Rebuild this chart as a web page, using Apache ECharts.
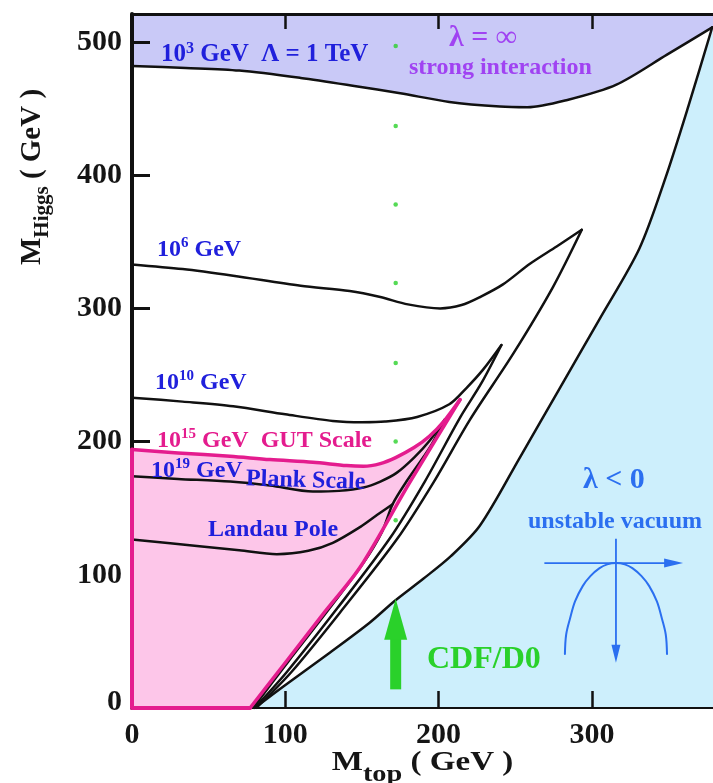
<!DOCTYPE html>
<html>
<head>
<meta charset="utf-8">
<script src="https://cdn.jsdelivr.net/npm/echarts@6/dist/echarts.min.js"></script>
<style>
  html, body { margin: 0; padding: 0; background: #ffffff; }
  #chart { width: 713px; height: 783px; }
</style>
</head>
<body>
<div id="chart"></div>
<script>
const SERIF = '"Liberation Serif", "Times New Roman", serif';

// Axis ranges and tick labels
const xMax = 379;
const yMax = 521;
const xTickLabels = [0, 100, 200, 300];
const yTickLabels = [0, 100, 200, 300, 400, 500];

// Upper (triviality) and lower (vacuum stability) bounds, [M_top, M_Higgs] in GeV
const upper1e3 = [[0,482],[35,480.5],[70,478.5],[110,473],[145,467],[175,461.5],[207,455],[240,451.5],[258,451],[284,456.5],[316,468],[349,490.5],[378.5,511]];
const lower1e3 = [[80,0],[98.5,16],[129,41.5],[155,64],[171.5,80.5],[190,97],[208,114],[227,137],[253,188],[279,240],[305,292],[331,345],[348,398],[363,452],[378.5,511]];

const upper1e6 = [[0,333],[33,329.5],[66,324.5],[110,317],[142,313],[162,308.5],[180,303],[201,300],[215,302.5],[227,308.5],[242,318],[259.6,333.5],[277,346.5],[293.4,359]];
const lower1e6 = [[81,0],[104,27],[138,75],[173,127],[197,170],[220.5,216.5],[248.7,266],[274.6,316],[293.4,359]];

const upper1e10 = [[0,233],[33,230],[66,226.5],[100,220.5],[131,215.5],[150,214.5],[165,215],[186,218.5],[207,228],[218,240],[229,254],[241,272.5]];
const lower1e10 = [[80,0],[101,27],[134,75],[168,127],[191,170],[214,218],[228,244],[241,272.5]];

const upper1e15 = [[0,194],[30,191.5],[64,189],[90,186.5],[118,184.5],[140,182],[151,181.5],[162,183.5],[172,188],[184,195.5],[194,204],[204,216],[214,231.5]];
const lower1e15 = [[77,0],[100,34],[125,71],[149,106],[181,169],[214,231.5]];

const upper1e19 = [[0,174],[30,172],[64,170],[90,167],[118,162.5],[135,163],[151,165.5],[162,170],[172.6,176.5],[184,188],[194.4,201],[204,216.5]];
const lower1e19 = [[79,0],[102,35],[127,72],[151,109],[163,132],[170,153],[179,170],[194.5,196],[204,216.5]];

const landauPole = [[0,126.5],[44,121.5],[70,118.5],[94.5,115.5],[115,118],[131,124],[149,136],[160,145],[170,153]];

// Measured top mass (CDF/D0) marker
const cdfTop = 172;
const cdfDotsHiggs = [141, 200, 259, 319, 378, 437, 497];
const cdfArrow = [[172, 14], [172, 82]];

// Inverted potential sketch inside the unstable region
const potentialCurve = [[282.4,40.5],[283.2,55],[285.7,67],[289,80],[294,91.5],[299,99],[305,105],[310,107.8],[315.7,108.8],[321.4,107.8],[326.4,105],[332.4,99],[337.4,91.5],[342.4,80],[345.7,67],[348.2,55],[349,40.5]];
const potentialAxisH = [[269,108.8],[359.5,108.8]];
const potentialAxisV = [[315.7,127],[315.7,34]];

// Region outlines built from the curves above
const strongRegion = upper1e3.concat([[xMax, 511], [xMax, yMax], [0, yMax]]);
const unstableRegion = lower1e3.concat([[xMax, 511], [xMax, 0]]);
const gutRegion = [[0, 0]].concat(upper1e15, lower1e15.slice(0, -1).reverse());
const magentaFrame = [[0, 194], [0, 0], [77, 0]];

function areaSeries(name, points, color, z) {
  return {
    name, type: 'custom', coordinateSystem: 'cartesian2d', z, silent: true, clip: true,
    data: [[0, 0]],
    renderItem: (params, api) => ({
      type: 'polygon',
      shape: { points: points.map(p => api.coord(p)) },
      style: { fill: color }
    })
  };
}

function curveSeries(name, points, color, width, z, clip) {
  return {
    name, type: 'line', data: points, showSymbol: false, smooth: 0.3,
    lineStyle: { color, width, cap: 'round', join: 'round' },
    z, silent: true, clip: clip !== false
  };
}

function arrowSeries(name, pts, color, shaftW, headLen, headW, z) {
  return {
    name, type: 'custom', coordinateSystem: 'cartesian2d', z, silent: true, clip: false,
    data: [[0, 0]],
    renderItem: (params, api) => {
      const a = api.coord(pts[0]), b = api.coord(pts[1]);
      const dx = b[0] - a[0], dy = b[1] - a[1], L = Math.hypot(dx, dy);
      const ux = dx / L, uy = dy / L, nx = -uy, ny = ux;
      const hb = [b[0] - ux * headLen, b[1] - uy * headLen];
      return {
        type: 'group',
        children: [
          { type: 'line', shape: { x1: a[0], y1: a[1], x2: hb[0] + ux * 2, y2: hb[1] + uy * 2 },
            style: { stroke: color, lineWidth: shaftW } },
          { type: 'polygon',
            shape: { points: [b, [hb[0] + nx * headW / 2, hb[1] + ny * headW / 2], [hb[0] - nx * headW / 2, hb[1] - ny * headW / 2]] },
            style: { fill: color } }
        ]
      };
    }
  };
}

const BLUE = '#2020dc';
const MAGENTA = '#e41c8e';
const PURPLE = '#a043f2';
const SKY = '#2b6ff0';
const GREEN = '#2ad12a';
const INK = '#151515';

function rich(size, color) {
  return {
    n: { fontFamily: SERIF, fontWeight: 'bold', fontSize: size, fill: color, lineHeight: size + 4 },
    s: { fontFamily: SERIF, fontWeight: 'bold', fontSize: Math.round(size * 0.62), fill: color, lineHeight: Math.round(size * 0.75), verticalAlign: 'top' }
  };
}

function label(text, x, y, size, color, rotation) {
  return {
    type: 'text', x, y, rotation: rotation || 0, z: 20, silent: true,
    style: { text, fill: color, rich: rich(size, color), align: 'left', verticalAlign: 'middle' }
  };
}

// Axis title with a subscript, e.g. M_top
function axisTitle(sub, x, y, rotation, mainSize, subSize, scaleX) {
  return {
    type: 'text', x, y, rotation, scaleX: scaleX || 1, z: 20, silent: true,
    style: {
      text: '{m|M}{s|' + sub + '}{m| ( GeV )}', align: 'center', verticalAlign: 'middle', fill: INK,
      rich: {
        m: { fontFamily: SERIF, fontWeight: 'bold', fontSize: mainSize, fill: INK, lineHeight: 30, verticalAlign: 'top' },
        s: { fontFamily: SERIF, fontWeight: 'bold', fontSize: subSize, fill: INK, lineHeight: 20, padding: [14, 0, 0, 0], verticalAlign: 'top' }
      }
    }
  };
}

const tickFont = { fontFamily: SERIF, fontWeight: 'bold', fontSize: 30, color: INK };

const option = {
  animation: false,
  backgroundColor: '#ffffff',
  grid: { left: 132, right: 0, top: 14, bottom: 75, outerBoundsMode: 'none', containLabel: false },
  xAxis: [
    {
      type: 'value', min: 0, max: xMax, interval: 100, z: 3,
      axisLine: { show: true, lineStyle: { color: '#111', width: 2 } },
      axisTick: { show: true, inside: true, length: 17, customValues: [100, 200, 300], lineStyle: { color: '#111', width: 2.5 } },
      axisLabel: Object.assign({ margin: 12, customValues: xTickLabels }, tickFont),
      splitLine: { show: false }
    },
    {
      type: 'value', position: 'top', min: 0, max: xMax, interval: 100, z: 3,
      axisLine: { show: true, lineStyle: { color: '#111', width: 3 } },
      axisTick: { show: true, inside: true, length: 15, customValues: [100, 200, 300], lineStyle: { color: '#111', width: 2.5 } },
      axisLabel: { show: false },
      splitLine: { show: false }
    }
  ],
  yAxis: {
    type: 'value', min: 0, max: yMax, interval: 100, z: 3,
    axisLine: { show: true, lineStyle: { color: '#111', width: 4 } },
    axisTick: { show: true, inside: true, length: 18, customValues: [200, 300, 400, 500], lineStyle: { color: '#111', width: 3 } },
    axisLabel: Object.assign({
      margin: 10, customValues: yTickLabels,
      formatter: v => (v === 0 ? '{z|0}' : String(v)),
      rich: { z: Object.assign({ padding: [0, 0, 12, 0] }, tickFont) }
    }, tickFont),
    splitLine: { show: false }
  },
  graphic: [
    axisTitle('Higgs', 33, 177, Math.PI / 2, 29, 21, 1),
    axisTitle('top', 422.5, 764, 0, 28, 24, 1.18),
    label('{n|10}{s|3}{n| GeV  Λ = 1 TeV}', 161, 55, 25, BLUE),
    label('{n|λ = ∞}', 449, 38, 30, PURPLE),
    label('{n|strong interaction}', 409, 68, 24, PURPLE),
    label('{n|10}{s|6}{n| GeV}', 157, 250, 24, BLUE),
    label('{n|10}{s|10}{n| GeV}', 155, 383, 24, BLUE),
    label('{n|10}{s|15}{n| GeV  GUT Scale}', 157, 441, 24, MAGENTA),
    label('{n|10}{s|19}{n| GeV}', 151, 471, 24, BLUE),
    label('{n|Plank Scale}', 246, 479, 24, BLUE, -0.03),
    label('{n|Landau Pole}', 208, 530, 24, BLUE),
    label('{n|λ < 0}', 583, 480, 30, SKY),
    label('{n|unstable vacuum}', 528, 522, 24, SKY),
    label('{n|CDF/D0}', 427, 660, 32, GREEN)
  ],
  series: [
    areaSeries('strong', strongRegion, '#c9c9f7', 1),
    areaSeries('unstable', unstableRegion, '#cdeffc', 1),
    areaSeries('gut', gutRegion, '#fdc6e9', 1),

    curveSeries('1e3 upper', upper1e3, '#111', 2.5, 4),
    curveSeries('1e3 lower', lower1e3, '#111', 2.5, 4),
    curveSeries('1e6 upper', upper1e6, '#111', 2.5, 4),
    curveSeries('1e6 lower', lower1e6, '#111', 2.5, 4),
    curveSeries('1e10 upper', upper1e10, '#111', 2.5, 4),
    curveSeries('1e10 lower', lower1e10, '#111', 2.5, 4),
    curveSeries('1e19 upper', upper1e19, '#111', 2.5, 4),
    curveSeries('1e19 lower', lower1e19, '#111', 2.5, 4),
    curveSeries('Landau pole', landauPole, '#111', 2.5, 4),
    curveSeries('1e15 upper', upper1e15, MAGENTA, 3.5, 5),
    curveSeries('1e15 lower', lower1e15, MAGENTA, 3.5, 5),
    Object.assign(curveSeries('1e15 frame', magentaFrame, MAGENTA, 4, 5, false), { smooth: false }),

    {
      name: 'CDF/D0 top mass', type: 'scatter', z: 6, silent: true,
      data: cdfDotsHiggs.map(h => [cdfTop, h]),
      symbol: 'circle', symbolSize: 4.5, itemStyle: { color: GREEN }
    },
    arrowSeries('CDF arrow', cdfArrow, GREEN, 11, 41, 23, 6),

    Object.assign(curveSeries('potential', potentialCurve, SKY, 2, 6), { smooth: 0.35 }),
    arrowSeries('field axis', potentialAxisH, SKY, 1.8, 19, 9, 6),
    arrowSeries('potential axis', potentialAxisV, SKY, 1.8, 18, 9, 6)
  ]
};

const chart = echarts.init(document.getElementById('chart'), null, { renderer: 'canvas' });
chart.setOption(option);
</script>
</body>
</html>
